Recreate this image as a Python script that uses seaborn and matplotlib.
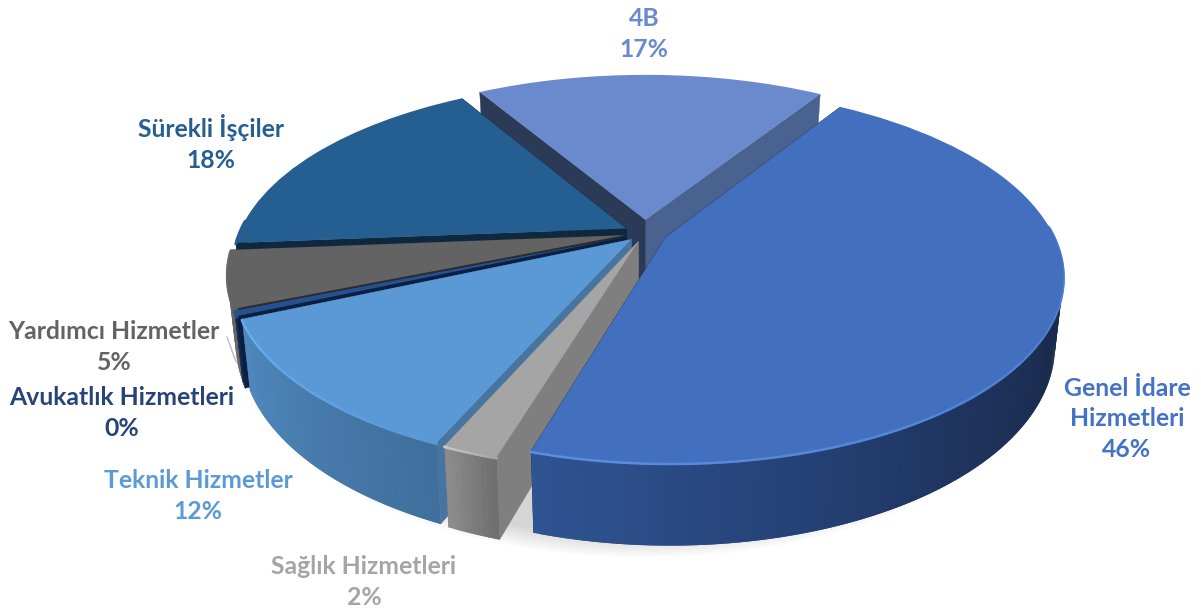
import numpy as np
import matplotlib
matplotlib.use("Agg")
import matplotlib.pyplot as plt
from matplotlib.transforms import Transform
import seaborn as sns

sns.set_theme(style="white")
plt.rcParams["font.family"] = ["Lato", "DejaVu Sans"]

# values (Avukatlik is labelled 0% but has a thin slice)
categories = ["Genel İdare\nHizmetleri", "Sağlık Hizmetleri", "Teknik Hizmetler",
              "Avukatlık Hizmetleri", "Yardımcı Hizmetler", "Sürekli İşçiler", "4B"]
shares = [45.7, 1.9, 11.8, 0.45, 4.9, 17.8, 17.45]
share_labels = ["46%", "2%", "12%", "0%", "5%", "18%", "17%"]

top_colors = ["#4270bf", "#a5a5a5", "#5a98d6", "#27508f", "#636363", "#255e91", "#6a8acd"]
text_colors = ["#4472c4", "#a5a5a5", "#5b9bd5", "#264478", "#636363", "#255e91", "#6a8acd"]
wall_colors = [["#2f5492", "#27437a", "#1f3560", "#1a2b4d", "#1a2b4d", "#1a2b4d", "#1a2b4d"],
               ["#8c8c8c", "#6f6f6f"],
               ["#5088bd", "#3f6f9c"],
               ["#1c3a6a", "#0f2545"],
               ["#5e5e5e", "#666666"],
               ["#0e2840", "#0e2840"],
               ["#4a628f", "#4a628f"]]
rim_colors = ["#5b8ee0", "#c8c8c8", "#69b0f2", "#2f5ba5", "#707070", "#255e91", "#6a8acd"]
side_colors = [("#1a2b4d", "#1a2b4d"), ("#7f7f7f", "#7f7f7f"), ("#4774a0", "#4774a0"),
               ("#0b2040", "#0b2040"), ("#333333", "#2e2b28"), ("#0e2840", "#0e2840"),
               ("#4a628f", "#2a3a57")]
explode = [0.058, 0.05, 0.05, 0.055, 0.055, 0.055, 0.075]
draw_order = [6, 5, 4, 3, 2, 1, 0]

label_pos = [(1127, 419), (364, 582), (198, 496), (122, 413), (114, 347), (211, 143), (644, 34)]
W, H = 1201, 612
PX, PY, A, B, K = 645, 233, 387, 178.6, 0.199
DEPTH = 66


class Tilt(Transform):
    """unit pie plane -> picture, with the rear of the pie further away"""
    input_dims = output_dims = 2
    is_separable = False
    has_inverse = False

    def transform_non_affine(self, values):
        v = np.asarray(values, dtype=float)
        s = 1 + K * v[:, 1]
        return np.column_stack([PX + A * v[:, 0] / s, PY - B * v[:, 1] / s])


tilt = Tilt()


def lower(uv):
    # same points on the underside of the slice
    p = tilt.transform_non_affine(uv)
    p[:, 0] = PX + (p[:, 0] - PX) * 0.98
    p[:, 1] += DEPTH / (1 + K * uv[:, 1])
    return p


def arc(center, theta):
    t = np.radians(theta)
    return np.column_stack([center[0] + np.cos(t), center[1] + np.sin(t)])


fig, ax = plt.subplots(figsize=(W / 100, H / 100), dpi=100)
wedges, _ = ax.pie(shares, explode=explode, startangle=57.7, counterclock=False,
                   colors=top_colors, wedgeprops={"linewidth": 0})
ax.set_aspect("auto")
ax.set_xlim(0, W)
ax.set_ylim(H, 0)
ax.set_position([0, 0, 1, 1])
ax.axis("off")

# soft shadow under the pie
t = np.radians(np.linspace(0, 360, 240))
for s in range(14):
    disc = np.column_stack([np.cos(t), np.sin(t)]) * (0.985 + s * 0.0035)
    p = lower(disc)
    ax.fill(p[:, 0], p[:, 1] + 3 + s * 0.55, color="black", alpha=0.012, lw=0, zorder=1)

for rank, i in enumerate(draw_order):
    w = wedges[i]
    base = 2 + rank
    c = np.array(w.center)
    th1, th2 = w.theta1, w.theta2

    # radial side walls
    apex = c[None, :]
    for th, col in zip((th1, th2), side_colors[i]):
        ends = np.vstack([apex, arc(c, [th])])
        up, dn = tilt.transform_non_affine(ends), lower(ends)
        quad = np.vstack([up, dn[::-1]])
        ax.fill(quad[:, 0], quad[:, 1], color=col, lw=0.3, zorder=base)

    # outer wall, cut in strips that overlap the next one so no seams show
    n = max(6, int((th2 - th1) * 1.5))
    thetas = np.linspace(th1, th2, n + 1)
    shades = sns.blend_palette(wall_colors[i], n)
    rim = arc(c, thetas)
    up, dn = tilt.transform_non_affine(rim), lower(rim)
    front = np.sin(np.radians(thetas)) < 0.05  # the rear of the rim faces away
    for k in range(n):
        if front[k]:
            quad = np.vstack([up[k:k + 3], dn[k:k + 3][::-1]])
            ax.fill(quad[:, 0], quad[:, 1], color=shades[k], lw=0, zorder=base + 0.1)

    # lit edge on the front of the rim
    if front.any():
        fade = sns.blend_palette([rim_colors[i], top_colors[i]], n)
        for k in range(n):
            if front[k]:
                a = up[k:k + 2]
                ax.plot(a[:, 0], a[:, 1] + 1, color=fade[k], lw=2.2,
                        solid_capstyle="round", zorder=base + 0.2)

    w.set_transform(tilt + ax.transData)
    w.set_zorder(base + 0.5)

for i, (x, y) in enumerate(label_pos):
    ax.text(x, y, f"{categories[i]}\n{share_labels[i]}", color=text_colors[i], ha="center",
            va="center", fontsize=17.8, fontweight="bold", linespacing=1.42, zorder=30)

# leader line of the Yardimci label
ax.plot([227, 236], [337, 362], color="#b5b5b5", lw=0.9, zorder=1.5)

fig.savefig("out.png", dpi=100)
